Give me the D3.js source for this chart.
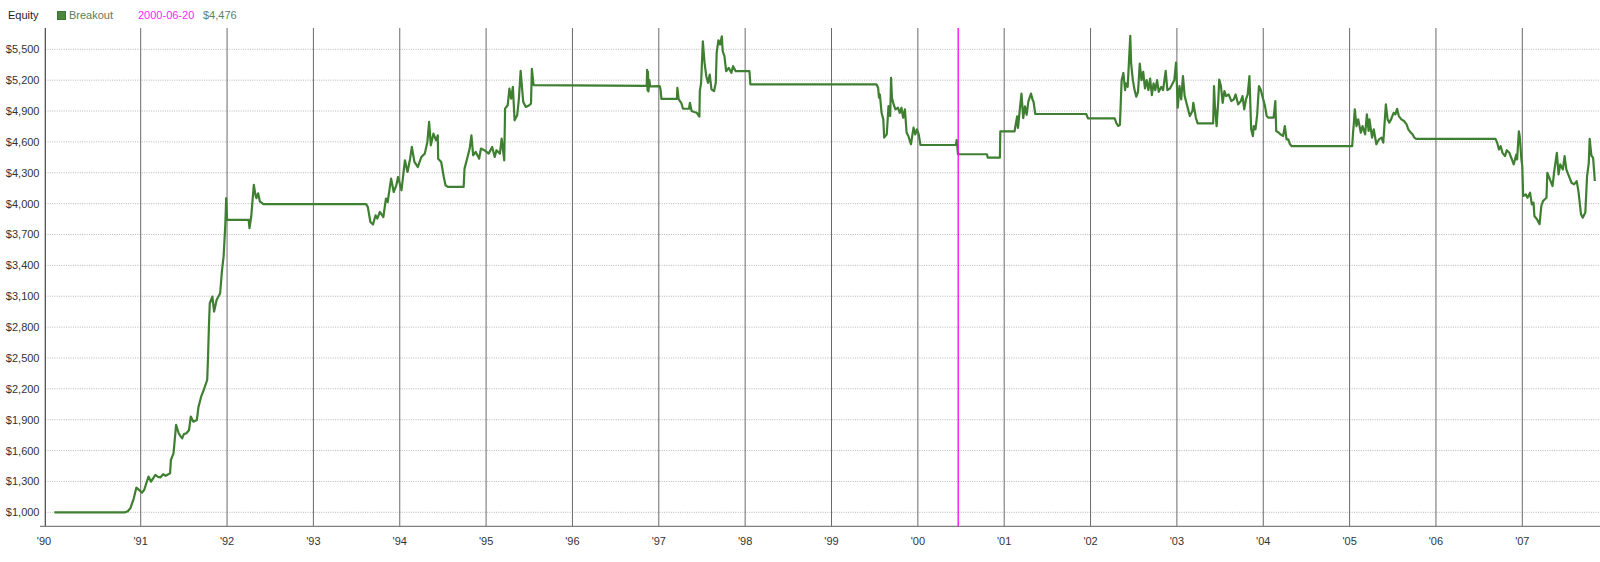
<!DOCTYPE html>
<html><head><meta charset="utf-8">
<script src="https://cdn.jsdelivr.net/npm/d3@7"></script>
<style>body{margin:0;background:#fff;overflow:hidden} svg{display:block} text{font-family:"Liberation Sans",Arial,sans-serif}</style>
</head><body><svg id="c" width="1600" height="562"></svg>
<script>
// ---------- data ----------
const chartTitle = "Equity";
const seriesName = "Breakout";
const yTickValues = [1000,1300,1600,1900,2200,2500,2800,3100,3400,3700,4000,4300,4600,4900,5200,5500];
const yearTickValues = [1991,1992,1993,1994,1995,1996,1997,1998,1999,2000,2001,2002,2003,2004,2005,2006,2007];
const yearTickLabels = ["'91","'92","'93","'94","'95","'96","'97","'98","'99","'00","'01","'02","'03","'04","'05","'06","'07"];
const firstYearLabel = "'90";
const cursorDate = "2000-06-20";
const cursorValue = 4476;
// [decimal year, equity $]
const equityPoints = [
[1990.00,1000],[1990.82,1000],[1990.85,1010],[1990.88,1039],[1990.92,1136],[1990.95,1240],[1990.97,1225],[1991.015,1191],[1991.04,1217],[1991.09,1347],
[1991.12,1298],[1991.17,1363],[1991.20,1345],[1991.23,1340],[1991.26,1370],[1991.29,1355],[1991.34,1379],[1991.35,1509],[1991.38,1573],[1991.41,1849],
[1991.44,1768],[1991.46,1740],[1991.48,1719],[1991.50,1760],[1991.53,1768],[1991.56,1800],[1991.58,1930],[1991.61,1881],[1991.65,1897],[1991.67,2027],
[1991.70,2124],[1991.73,2189],[1991.77,2286],[1991.78,2513],[1991.79,2805],[1991.80,3032],[1991.83,3097],[1991.85,2951],[1991.88,3065],[1991.92,3129],
[1991.94,3340],[1991.96,3486],[1991.98,3794],[1991.99,4053],[1992.00,3843],[1992.25,3843],[1992.26,3762],[1992.28,3875],[1992.31,4183],[1992.33,4080],
[1992.34,4053],[1992.36,4100],[1992.38,4021],[1992.42,3995],[1993.61,3995],
[1993.63,3968],[1993.66,3822],[1993.69,3797],[1993.72,3887],[1993.74,3855],[1993.77,3919],[1993.81,3870],[1993.84,4049],[1993.86,4016],[1993.90,4243],
[1993.93,4113],[1993.96,4178],[1993.98,4259],[1994.02,4130],[1994.06,4421],[1994.09,4308],[1994.12,4437],[1994.14,4551],[1994.17,4405],[1994.21,4356],
[1994.25,4454],[1994.29,4486],[1994.32,4600],[1994.34,4794],[1994.36,4567],[1994.39,4680],[1994.42,4616],[1994.44,4664],[1994.445,4437],[1994.48,4405],
[1994.51,4259],[1994.53,4178],[1994.56,4162],[1994.74,4162],[1994.75,4340],[1994.78,4437],[1994.81,4535],[1994.83,4664],[1994.85,4470],[1994.88,4502],
[1994.92,4437],[1994.94,4535],[1994.98,4519],[1995.03,4486],[1995.07,4551],[1995.10,4454],[1995.12,4519],[1995.16,4486],[1995.18,4632],[1995.21,4421],
[1995.22,4924],[1995.25,4956],[1995.27,5118],[1995.29,5021],[1995.31,5135],[1995.33,4810],[1995.36,4859],[1995.38,5021],[1995.40,5290],[1995.43,4989],
[1995.46,4940],[1995.50,4956],[1995.52,4973],[1995.53,5310],[1995.55,5152],[1996.86,5145],
[1996.865,5300],[1996.87,5100],[1996.875,5280],[1996.88,5090],[1996.89,5200],[1996.90,5140],[1997.01,5142],[1997.02,5110],[1997.03,5019],[1997.21,5019],
[1997.215,5126],[1997.23,5013],[1997.26,4980],[1997.28,4922],[1997.35,4922],[1997.36,4980],[1997.38,4900],[1997.41,4890],[1997.44,4883],[1997.47,4845],
[1997.475,5093],[1997.49,5174],[1997.51,5578],[1997.53,5368],[1997.55,5239],[1997.57,5174],[1997.59,5255],[1997.61,5110],[1997.64,5093],[1997.66,5174],
[1997.67,5465],[1997.69,5588],[1997.71,5546],[1997.73,5626],[1997.74,5481],[1997.76,5433],[1997.78,5287],[1997.81,5320],[1997.84,5271],[1997.86,5336],
[1997.88,5303],[1997.89,5287],[1998.05,5287],[1998.06,5160],[1999.52,5160],[1999.54,5126],[1999.55,5029],[1999.56,5061],[1999.58,4883],[1999.60,4819],
[1999.61,4641],[1999.64,4673],[1999.66,4948],[1999.68,4851],[1999.69,5223],[1999.70,5029],[1999.72,4964],[1999.74,4916],[1999.77,4932],[1999.79,4883],
[1999.81,4932],[1999.83,4835],[1999.85,4916],[1999.87,4689],[1999.89,4657],[1999.92,4577],[1999.95,4738],[1999.97,4673],[1999.99,4722],[2000.01,4673],
[2000.03,4570],[2000.44,4570],[2000.45,4618],[2000.465,4480],[2000.80,4480],[2000.81,4447],[2000.95,4447],[2000.955,4703],[2001.12,4703],
[2001.13,4752],[2001.15,4848],[2001.16,4735],[2001.18,4909],[2001.20,5070],[2001.22,4832],[2001.24,4945],[2001.26,4864],[2001.28,4993],[2001.31,5070],
[2001.33,5006],[2001.34,4990],[2001.36,4871],[2001.95,4871],[2001.97,4829],[2002.28,4829],[2002.30,4781],[2002.32,4755],[2002.34,4765],[2002.36,5200],
[2002.38,5270],[2002.40,5103],[2002.41,5168],[2002.43,5135],[2002.46,5630],[2002.47,5361],[2002.49,5200],[2002.51,5103],[2002.53,5039],[2002.55,5087],
[2002.57,5361],[2002.59,5200],[2002.61,5281],[2002.63,5119],[2002.65,5200],[2002.67,5103],[2002.69,5216],[2002.71,5055],[2002.73,5168],[2002.75,5103],
[2002.77,5200],[2002.79,5087],[2002.82,5135],[2002.84,5103],[2002.87,5291],[2002.89,5103],[2002.92,5119],[2002.95,5168],[2002.97,5200],[2002.99,5371],
[2003.01,4932],[2003.03,5142],[2003.05,5013],[2003.07,5239],[2003.09,5045],[2003.11,4980],[2003.13,4916],[2003.15,4851],[2003.18,4900],[2003.19,4980],
[2003.22,4835],[2003.24,4780],[2003.42,4780],[2003.43,5142],[2003.44,4948],[2003.46,4754],[2003.48,5013],[2003.49,5206],[2003.51,5142],[2003.53,4980],
[2003.55,5093],[2003.57,5045],[2003.60,5061],[2003.63,4997],[2003.66,5013],[2003.68,5061],[2003.71,4964],[2003.74,4997],[2003.76,5045],[2003.78,4916],
[2003.80,5013],[2003.82,5061],[2003.84,5239],[2003.86,4722],[2003.88,4657],[2003.89,4754],[2003.91,4722],[2003.93,4867],[2003.95,5142],[2003.97,5110],
[2003.99,5045],[2004.02,4948],[2004.04,4851],[2004.06,4835],[2004.12,4835],[2004.14,4997],[2004.15,4706],[2004.18,4689],[2004.20,4673],[2004.23,4657],
[2004.25,4754],[2004.27,4625],[2004.29,4625],[2004.31,4577],[2004.33,4558],[2005.03,4558],
[2005.04,4689],[2005.05,4787],[2005.06,4916],[2005.08,4754],[2005.10,4819],[2005.13,4689],[2005.15,4754],[2005.18,4673],[2005.20,4867],[2005.22,4706],
[2005.23,4819],[2005.26,4641],[2005.28,4722],[2005.31,4577],[2005.34,4625],[2005.37,4641],[2005.39,4593],[2005.42,4964],[2005.44,4819],[2005.46,4787],
[2005.48,4819],[2005.51,4883],[2005.53,4867],[2005.55,4922],[2005.57,4851],[2005.60,4819],[2005.63,4803],[2005.66,4771],[2005.68,4722],[2005.71,4689],
[2005.73,4673],[2005.75,4641],[2005.77,4630],[2006.69,4630],[2006.71,4590],[2006.73,4526],[2006.75,4558],[2006.77,4494],[2006.80,4461],[2006.82,4519],
[2006.85,4494],[2006.88,4429],[2006.90,4381],[2006.93,4477],[2006.94,4429],[2006.96,4703],[2006.97,4655],[2006.99,4429],[2007.00,4364],[2007.01,4074],
[2007.04,4090],[2007.06,4058],[2007.09,4106],[2007.11,3993],[2007.13,4010],[2007.14,3880],[2007.17,3848],[2007.20,3800],[2007.22,3977],[2007.24,4025],
[2007.28,4058],[2007.29,4300],[2007.32,4235],[2007.35,4171],[2007.37,4316],[2007.40,4494],[2007.42,4284],[2007.44,4381],[2007.47,4332],[2007.49,4461],
[2007.51,4332],[2007.54,4268],[2007.57,4203],[2007.60,4187],[2007.63,4219],[2007.65,4122],[2007.68,3896],[2007.70,3864],[2007.73,3913],[2007.75,4268],
[2007.77,4397],[2007.78,4629],[2007.80,4468],[2007.82,4445],[2007.84,4220]
];

// ---------- layout ----------
const W = 1600, H = 562;
const plotLeft = 45.3, plotRight = 1600, plotTop = 28, plotBottom = 526.3;
const lineColor = "#3f7f31";

const svg = d3.select("#c");
const x = d3.scaleLinear().domain([1991, 2007]).range([140.7, 1522.3]);
const y = d3.scaleLinear().domain([1000, 5500]).range([512.3, 49.3]);

function decYear(s){
  const d = new Date(s + "T00:00:00Z");
  const y0 = Date.UTC(d.getUTCFullYear(),0,1), y1 = Date.UTC(d.getUTCFullYear()+1,0,1);
  return d.getUTCFullYear() + (d - y0)/(y1 - y0);
}

// horizontal dotted gridlines
svg.append("g").selectAll("line").data(yTickValues).join("line")
  .attr("x1", plotLeft).attr("x2", plotRight)
  .attr("y1", d => y(d)).attr("y2", d => y(d))
  .attr("stroke", "#b8b8b8").attr("stroke-width", 1).attr("stroke-dasharray", "1,1.3");

// vertical year gridlines
svg.append("g").selectAll("line").data(yearTickValues).join("line")
  .attr("x1", d => x(d)).attr("x2", d => x(d))
  .attr("y1", plotTop).attr("y2", plotBottom)
  .attr("stroke", "#6a6a6a").attr("stroke-width", 1);

// y axis line
svg.append("line").attr("x1", plotLeft).attr("x2", plotLeft).attr("y1", plotTop).attr("y2", plotBottom)
  .attr("stroke", "#444").attr("stroke-width", 1.2);
// x axis line
svg.append("line").attr("x1", 40).attr("x2", plotRight).attr("y1", plotBottom).attr("y2", plotBottom)
  .attr("stroke", "#808080").attr("stroke-width", 1.3);

// y labels
const fmt = d3.format(",");
svg.append("g").selectAll("text").data(yTickValues).join("text")
  .attr("x", 39.5).attr("y", d => y(d)).attr("dy", "0.36em")
  .attr("text-anchor", "end").attr("font-size", 11).attr("fill", "#333")
  .text(d => "$" + fmt(d));

// x labels
svg.append("g").selectAll("text").data(yearTickValues).join("text")
  .attr("x", d => x(d)).attr("y", 545)
  .attr("text-anchor", "middle").attr("font-size", 11).attr("fill", "#333")
  .text((d,i) => yearTickLabels[i]);
svg.append("text").attr("x", 44).attr("y", 545).attr("text-anchor", "middle")
  .attr("font-size", 11).attr("fill", "#333").text(firstYearLabel);

// clip
svg.append("clipPath").attr("id", "clip").append("rect")
  .attr("x", plotLeft).attr("y", plotTop).attr("width", plotRight - plotLeft).attr("height", plotBottom - plotTop);

// equity line
const line = d3.line().x(d => x(d[0])).y(d => y(d[1]));
svg.append("path").datum(equityPoints)
  .attr("clip-path", "url(#clip)")
  .attr("fill", "none").attr("stroke", lineColor).attr("stroke-width", 2.2)
  .attr("stroke-linejoin", "round").attr("d", line);

// cursor line
const cx = x(decYear(cursorDate));
svg.append("line").attr("x1", cx).attr("x2", cx).attr("y1", plotTop).attr("y2", plotBottom)
  .attr("stroke", "#ff00ff").attr("stroke-width", 1.3);

// legend
svg.append("text").attr("x", 8).attr("y", 19).attr("font-size", 11).attr("fill", "#222").text(chartTitle);
svg.append("rect").attr("x", 57.5).attr("y", 11.5).attr("width", 8).attr("height", 8)
  .attr("fill", "#4a873c").attr("stroke", "#3c7430").attr("stroke-width", 1);
svg.append("text").attr("x", 69).attr("y", 19).attr("font-size", 11).attr("fill", "#5c7a5c").text(seriesName);
svg.append("text").attr("x", 138).attr("y", 19).attr("font-size", 11).attr("fill", "#ff22ff").text(cursorDate);
svg.append("text").attr("x", 203).attr("y", 19).attr("font-size", 11).attr("fill", "#5a806a").text("$" + fmt(cursorValue));
</script>
</body></html>
